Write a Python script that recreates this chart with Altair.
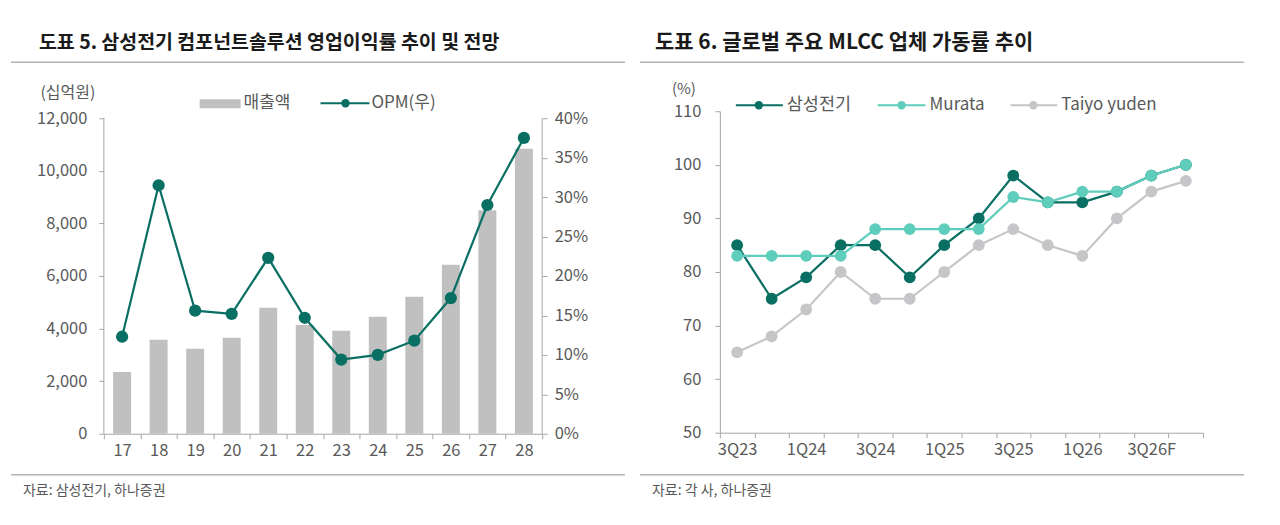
import altair as alt
import pandas as pd

# ---------------- data ----------------
years = ["17", "18", "19", "20", "21", "22", "23", "24", "25", "26", "27", "28"]
sales = [2350, 3570, 3230, 3650, 4790, 4140, 3920, 4450, 5210, 6430, 8500, 10840]
opm_pct = [12.3, 31.5, 15.6, 15.2, 22.3, 14.7, 9.4, 10.0, 11.8, 17.2, 29.0, 37.5]

quarters = ["3Q23", "4Q23", "1Q24", "2Q24", "3Q24", "4Q24", "1Q25", "2Q25",
            "3Q25", "4Q25", "1Q26", "2Q26", "3Q26F", "4Q26F"]
shown_quarters = ["3Q23", "1Q24", "3Q24", "1Q25", "3Q25", "1Q26", "3Q26F"]
samsung = [85, 75, 79, 85, 85, 79, 85, 90, 98, 93, 93, 95, 98, 100]
murata = [83, 83, 83, 83, 88, 88, 88, 88, 94, 93, 95, 95, 98, 100]
taiyo = [65, 68, 73, 80, 75, 75, 80, 85, 88, 85, 83, 90, 95, 97]

sales_ticks = [0, 2000, 4000, 6000, 8000, 10000, 12000]
opm_ticks = [0, 0.05, 0.10, 0.15, 0.20, 0.25, 0.30, 0.35, 0.40]
rate_ticks = [50, 60, 70, 80, 90, 100, 110]

# ---------------- style ----------------
FONT = "Noto Sans CJK KR"
AX = "#a6a6a6"
LAB = "#595959"
TEAL = "#0a6f63"
MINT = "#5fcdbb"
LGRAY = "#c6c6c8"
BARC = "#c0c0c0"

# layout (absolute pixels of plot origins)
TOP = 111
L_X0, L_W, L_H = 103, 439, 434 - TOP
R_X0, R_W, R_H = 720, 484, 433 - TOP


def txt(s, x, y, x0, size=14, weight="normal", color=LAB, align="left"):
    return alt.Chart(pd.DataFrame({"t": [s]})).mark_text(
        align=align, baseline="middle", fontSize=size, fontWeight=weight,
        color=color, font=FONT
    ).encode(x=alt.value(x - x0), y=alt.value(y - TOP), text="t:N")


def hline(x1, x2, y, x0, color="#b4b4b4", w=1.5):
    return alt.Chart(pd.DataFrame({"a": [0]})).mark_rule(color=color, strokeWidth=w).encode(
        x=alt.value(x1 - x0), x2=alt.value(x2 - x0), y=alt.value(y - TOP))


def vline(x, y1, y2, x0, color=AX, w=1):
    return alt.Chart(pd.DataFrame({"a": [0]})).mark_rule(color=color, strokeWidth=w).encode(
        x=alt.value(x - x0), y=alt.value(y1 - TOP), y2=alt.value(y2 - TOP))


def dot(x, y, x0, color, size=70):
    return alt.Chart(pd.DataFrame({"a": [0]})).mark_point(
        filled=True, size=size, color=color, opacity=1).encode(
        x=alt.value(x - x0), y=alt.value(y - TOP))


def rect(x1, x2, y1, y2, x0, color):
    return alt.Chart(pd.DataFrame({"a": [0]})).mark_rect(color=color).encode(
        x=alt.value(x1 - x0), x2=alt.value(x2 - x0),
        y=alt.value(y1 - TOP), y2=alt.value(y2 - TOP))


# ---------------- left panel ----------------
df1 = pd.DataFrame({"year": years, "sales": sales, "opm": [v / 100 for v in opm_pct]})

xl = alt.X("year:N", sort=years,
           scale=alt.Scale(paddingInner=0, paddingOuter=0),
           axis=alt.Axis(title=None, labelAngle=0, tickBand="extent", tickSize=5,
                         labelPadding=4, domainColor=AX, tickColor=AX))

sales_max = 12000 * L_H / 316
opm_max = 0.40 * L_H / 316

bars = alt.Chart(df1).mark_bar(width=18, color=BARC).encode(
    x=xl,
    y=alt.Y("sales:Q", scale=alt.Scale(domain=[0, sales_max], nice=False),
            axis=alt.Axis(title=None, values=sales_ticks, format=",.0f", domain=False,
                          tickSize=5, labelPadding=12, tickColor=AX)))

opm_y = alt.Y("opm:Q", scale=alt.Scale(domain=[0, opm_max], nice=False),
              axis=alt.Axis(title=None, orient="right", values=opm_ticks, format=".0%",
                            domain=False, tickSize=5, labelPadding=7, tickColor=AX))
opm_line = alt.Chart(df1).mark_line(color=TEAL, strokeWidth=2.2).encode(x=xl, y=opm_y)
opm_pts = alt.Chart(df1).mark_point(filled=True, size=150, color=TEAL, opacity=1).encode(x=xl, y=opm_y)
opm_layer = alt.layer(opm_line, opm_pts)

left = alt.layer(
    bars, opm_layer,
    # tiny white marks pinning the canvas corners (0,0) and (1280,525)
    hline(0, 1, 0.5, L_X0, color="white", w=1),
    hline(1279, 1280, 524.5, L_X0, color="white", w=1),
    vline(L_X0, 118, 434, L_X0),
    vline(L_X0 + L_W, 118, 434, L_X0),
    txt("도표 5. 삼성전기 컴포넌트솔루션 영업이익률 추이 및 전망", 38, 43, L_X0, size=19.5, weight="bold", color="#1a1a1a"),
    hline(10, 625, 62, L_X0),
    txt("(십억원)", 67, 93, L_X0, size=16, align="center"),
    rect(199, 240, 99, 108, L_X0, BARC),
    txt("매출액", 243, 103, L_X0, size=17),
    hline(320, 369, 103, L_X0, color=TEAL, w=2),
    dot(345, 103, L_X0, TEAL),
    txt("OPM(우)", 371, 103, L_X0, size=17),
    hline(10, 625, 475, L_X0),
    txt("자료: 삼성전기, 하나증권", 22, 491, L_X0, size=14),
).resolve_scale(y="independent").properties(width=L_W, height=L_H)

# ---------------- right panel ----------------
df2 = pd.DataFrame({
    "quarter": quarters * 3,
    "series": ["삼성전기"] * len(quarters) + ["Murata"] * len(quarters) + ["Taiyo yuden"] * len(quarters),
    "rate": samsung + murata + taiyo,
})

label_expr = "indexof([" + ",".join("'%s'" % q for q in shown_quarters) + "], datum.label) >= 0 ? datum.label : ''"
xr = alt.X("quarter:N", sort=quarters,
           scale=alt.Scale(paddingInner=0, paddingOuter=0),
           axis=alt.Axis(title=None, labelAngle=0, tickBand="extent", tickSize=5,
                         labelPadding=4, domainColor=AX, tickColor=AX, labelExpr=label_expr))
yr = alt.Y("rate:Q", scale=alt.Scale(domain=[50, 110], nice=False),
           axis=alt.Axis(title=None, values=rate_ticks, tickSize=5, labelPadding=14,
                         domainColor=AX, tickColor=AX))


def series_layer(name, color):
    base = alt.Chart(df2).transform_filter(alt.datum.series == name)
    return alt.layer(
        base.mark_line(color=color, strokeWidth=2.2).encode(x=xr, y=yr),
        base.mark_point(filled=True, size=140, color=color, opacity=1).encode(x=xr, y=yr),
    )


right = alt.layer(
    series_layer("Taiyo yuden", LGRAY),
    series_layer("삼성전기", TEAL),
    series_layer("Murata", MINT),
    txt("도표 6. 글로벌 주요 MLCC 업체 가동률 추이", 655, 43, R_X0, size=21, weight="bold", color="#1a1a1a"),
    hline(640, 1245, 62, R_X0),
    txt("(%)", 684, 89, R_X0, size=15, align="center"),
    hline(736, 783, 105, R_X0, color=TEAL, w=2),
    dot(759, 105, R_X0, TEAL),
    txt("삼성전기", 787, 105, R_X0, size=17.5),
    hline(878, 926, 105, R_X0, color=MINT, w=2),
    dot(902, 105, R_X0, MINT),
    txt("Murata", 930, 105, R_X0, size=17),
    hline(1011, 1058, 105, R_X0, color=LGRAY, w=2),
    dot(1034, 105, R_X0, LGRAY),
    txt("Taiyo yuden", 1062, 105, R_X0, size=17),
    hline(640, 1245, 475, R_X0),
    txt("자료: 각 사, 하나증권", 652, 491, R_X0, size=14),
).properties(width=R_W, height=R_H)

chart = alt.hconcat(left, right, spacing=R_X0 - (L_X0 + L_W), bounds="flush").properties(
    padding=0,
    background="white",
).configure_view(stroke=None).configure_axis(
    grid=False, labelFont=FONT, labelFontSize=16.5, labelColor=LAB,
)

chart.save("out.html", embed_options={"renderer": "svg", "actions": False})
